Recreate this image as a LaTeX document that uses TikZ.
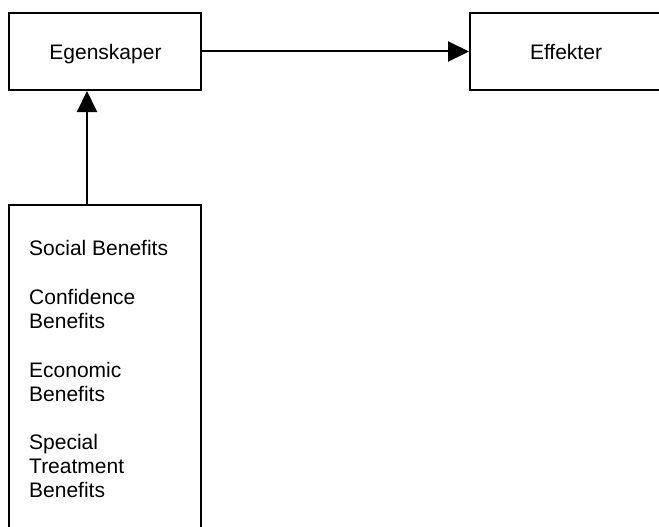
\documentclass[tikz,border=0pt]{standalone}
\usepackage{fontspec}
\setmainfont{Liberation Sans}
\usetikzlibrary{arrows.meta}
\begin{document}
\begin{tikzpicture}[x=1pt,y=-1pt,
  box/.style={draw=black,line width=2pt,minimum width=192pt,minimum height=77pt,inner sep=0pt},
  lbl/.style={font=\fontsize{21}{24}\selectfont,inner sep=0pt},
  conn/.style={line width=2pt,-{Triangle[length=21pt,width=20pt]}}]
  \useasboundingbox (0,0) rectangle (659,527);
  % upper row of boxes
  \node[box] (eg) at (105,51.5) {};
  \node[box] (ef) at (566,51.5) {};
  \node[lbl,anchor=base] (egt) at (105.5,60) {Egenskaper};
  \node[lbl,anchor=base] (eft) at (566,60) {Effekter};
  % tall box, its lower edge runs past the page
  \draw[line width=2pt] (9,560) -- (9,205) -- (201,205) -- (201,560);
  \coordinate (bn) at (87,205);
  % list of benefits, one node per line
  \foreach \n/\t/\yy in {l1/Social Benefits/255, l2/Confidence/304, l3/Benefits/328,
      l4/Economic/377, l5/Benefits/401, l6/Special/449, l7/Treatment/473, l8/Benefits/497}
    \node[lbl,anchor=base west] (\n) at (29,\yy) {\t};
  % connectors
  \draw[conn] (eg.east) -- (ef.west);
  \draw[conn] (bn) -- (bn |- eg.south);
\end{tikzpicture}
\end{document}
